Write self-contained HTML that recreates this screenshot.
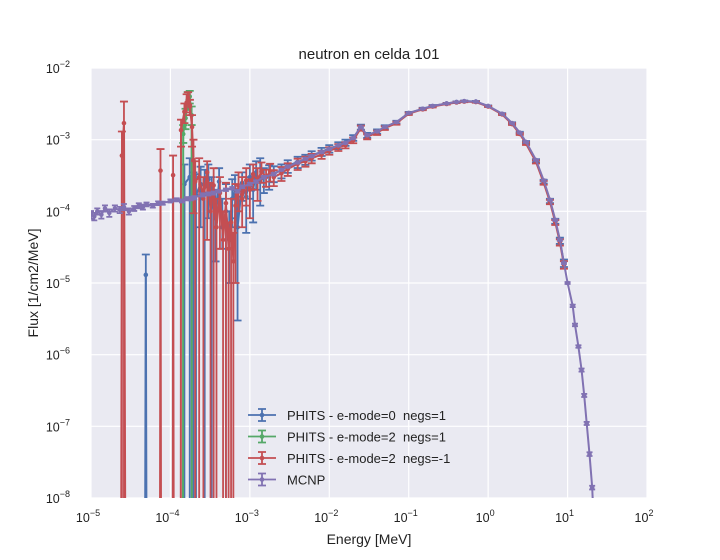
<!DOCTYPE html>
<html><head><meta charset="utf-8"><style>
body{margin:0;background:#fff;}
svg{display:block;font-family:"Liberation Sans","DejaVu Sans",sans-serif;}
</style></head><body>
<svg id="chart" width="720" height="560" xmlns="http://www.w3.org/2000/svg">
<rect x="0" y="0" width="720" height="560" fill="#fff"/>
<rect x="91" y="68" width="556" height="430" fill="#EAEAF2"/>
<g id="grid"></g>
<defs><clipPath id="clip"><rect x="91" y="68" width="556" height="430"/></clipPath></defs>
<g id="series" clip-path="url(#clip)"></g>
<g id="ticks"></g>
<text x="369" y="59" text-anchor="middle" font-size="15" fill="#222">neutron en celda 101</text>
<text x="369" y="544" text-anchor="middle" font-size="14" fill="#222">Energy [MeV]</text>
<text x="38" y="283" text-anchor="middle" font-size="14" fill="#222" transform="rotate(-90 38 283)">Flux [1/cm2/MeV]</text>
<g id="legend"></g>
</svg>
<script>
// ---- data ----
const xDecades = [-5,-4,-3,-2,-1,0,1,2];
const yDecades = [-8,-7,-6,-5,-4,-3,-2];

const mcnpE = [1e-5,1.1e-5,1.2e-5,1.35e-5,1.5e-5,1.7e-5,2e-5,2.3e-5,2.6e-5,3e-5,3.5e-5,4e-5,4.5e-5,5e-5,6e-5,7e-5,8e-5,1e-4,1.2e-4,1.4e-4,1.6e-4,1.8e-4,2e-4,2.5e-4,3e-4,3.5e-4,4e-4,5e-4,6e-4,7e-4,8e-4,1e-3,1.2e-3,1.5e-3,2e-3,2.5e-3,3e-3,4e-3,5e-3,6e-3,8e-3,1e-2,1.3e-2,1.6e-2,2e-2,2.5e-2,3e-2,4e-2,5e-2,7e-2,0.1,0.15,0.2,0.3,0.4,0.5,0.7,1,1.5,2,2.5,3,4,5,6,7,8,9,10,11.6,12.4,13.7,15,16.2,17.4,18.9,20.4,22];
const mcnpV = [9e-5,8.5e-5,1e-4,9e-5,1.1e-4,9.5e-5,1.1e-4,1.05e-4,1.15e-4,1e-4,1.1e-4,1.2e-4,1.15e-4,1.25e-4,1.2e-4,1.3e-4,1.3e-4,1.4e-4,1.45e-4,1.4e-4,1.5e-4,1.5e-4,1.55e-4,1.7e-4,1.75e-4,1.8e-4,1.9e-4,2.0e-4,2.1e-4,1.9e-4,2.2e-4,2.4e-4,2.6e-4,3e-4,3.3e-4,3.8e-4,4.2e-4,4.8e-4,5.4e-4,5.9e-4,6.7e-4,7.4e-4,8.3e-4,9.0e-4,1.05e-3,1.5e-3,1.15e-3,1.3e-3,1.5e-3,1.75e-3,2.35e-3,2.7e-3,2.95e-3,3.2e-3,3.35e-3,3.45e-3,3.4e-3,2.95e-3,2.3e-3,1.7e-3,1.25e-3,9.3e-4,5.2e-4,2.7e-4,1.45e-4,7.6e-5,4e-5,1.9e-5,1e-5,4.8e-6,2.6e-6,1.3e-6,6.1e-7,2.7e-7,1.1e-7,4.1e-8,1.4e-8,2e-9];
const mcnpRel = [0.12,0.12,0.1,0.12,0.1,0.12,0.1,0.1,0.1,0.1,0.08,0.08,0.08,0.06,0.06,0.06,0.05,0.05,0.05,0.05,0.05,0.05,0.05,0.05,0.05,0.05,0.04,0.04,0.04,0.04,0.04,0.04,0.04,0.04,0.04,0.03,0.03,0.03,0.03,0.03,0.03,0.03,0.02,0.02,0.02,0.02,0.02,0.02,0.02,0.02,0.02,0.02,0.02,0.02,0.02,0.02,0.02,0.02,0.02,0.02,0.02,0.02,0.02,0.03,0.03,0.03,0.03,0.03,0.03,0.04,0.04,0.04,0.05,0.05,0.05,0.06,0.06,0.06];

// shared high-energy PHITS grid
const hiE = [2e-3,2.5e-3,3e-3,4e-3,5e-3,6e-3,8e-3,1e-2,1.3e-2,1.6e-2,2e-2,2.5e-2,3e-2,4e-2,5e-2,7e-2,0.1,0.15,0.2,0.3,0.4,0.5,0.7,1,1.5,2,2.5,3,4,5,6,7,8,9];
const hiRel = [0.25,0.22,0.2,0.18,0.16,0.15,0.13,0.12,0.11,0.1,0.09,0.08,0.08,0.07,0.06,0.05,0.04,0.03,0.03,0.02,0.02,0.02,0.02,0.02,0.02,0.03,0.03,0.04,0.05,0.06,0.07,0.08,0.1,0.12];
const redHiV = [3.0e-4,3.4e-4,3.9e-4,4.6e-4,5.0e-4,5.5e-4,6.2e-4,7.0e-4,7.8e-4,8.4e-4,9.8e-4,1.45e-3,1.1e-3,1.25e-3,1.45e-3,1.7e-3,2.3e-3,2.65e-3,2.9e-3,3.15e-3,3.3e-3,3.4e-3,3.35e-3,2.9e-3,2.25e-3,1.65e-3,1.2e-3,8.8e-4,4.9e-4,2.5e-4,1.35e-4,7e-5,3.7e-5,1.8e-5];
const blueHiV = [3.4e-4,3.7e-4,4.3e-4,4.9e-4,5.3e-4,6.0e-4,6.8e-4,7.5e-4,8.3e-4,9.1e-4,1.06e-3,1.5e-3,1.15e-3,1.3e-3,1.5e-3,1.75e-3,2.35e-3,2.7e-3,2.95e-3,3.2e-3,3.35e-3,3.45e-3,3.4e-3,2.95e-3,2.3e-3,1.7e-3,1.25e-3,9.2e-4,5.1e-4,2.6e-4,1.4e-4,7.3e-5,3.9e-5,1.9e-5];

// low-energy PHITS points (value, upper bound, lower bound; 0 = zero flux / off-axis)
const blueLoE = [4.8e-5,4.9e-5,5e-5,1.45e-4,1.5e-4,1.75e-4,1.95e-4,2.1e-4,2.4e-4,2.7e-4,3e-4,3.3e-4,3.7e-4,4.1e-4,4.5e-4,5e-4,5.5e-4,6e-4,6.5e-4,7e-4,8e-4,9e-4,1e-3,1.1e-3,1.2e-3,1.35e-3,1.5e-3,1.75e-3];
const blueLoV = [0,1.3e-5,0,0,2.4e-4,3e-4,1e-4,1.7e-4,2.4e-4,2.2e-4,2.8e-4,1.5e-4,8e-5,2.6e-4,6e-5,1e-4,4e-5,1.5e-4,2e-4,6e-5,2.5e-4,1.6e-4,3e-4,2e-4,3.5e-4,2.6e-4,3e-4,3.2e-4];
const blueLoHi = [0,2.5e-5,0,0,4.5e-4,5.5e-4,3.5e-4,3.3e-4,4.2e-4,3.8e-4,4.5e-4,3e-4,2e-4,4e-4,1.5e-4,2.4e-4,1e-4,2.8e-4,3.2e-4,1.6e-4,3.5e-4,3e-4,4.5e-4,3e-4,5e-4,5.5e-4,4e-4,4.4e-4];
const blueLoLo = [0,0,0,0,0,0,0,0,6e-5,0,8e-5,0,2e-5,1e-4,3e-5,0,1e-5,6e-5,8e-5,3e-6,1.4e-4,5e-5,1.5e-4,7e-5,2e-4,1.2e-4,1.8e-4,2e-4];

const redLoE = [2.4e-5,2.45e-5,2.6e-5,2.7e-5,7.4e-5,7.5e-5,7.6e-5,1.07e-4,1.08e-4,1.1e-4,1.35e-4,1.36e-4,1.5e-4,1.6e-4,1.67e-4,1.76e-4,1.87e-4,1.95e-4,2.05e-4,2.3e-4,2.6e-4,2.9e-4,3.2e-4,3.5e-4,3.8e-4,4.2e-4,4.6e-4,5e-4,5.4e-4,5.8e-4,6.2e-4,6.6e-4,7.2e-4,8e-4,9e-4,1e-3,1.1e-3,1.25e-3,1.4e-3,1.6e-3,1.8e-3];
const redLoV = [0,6e-4,1.7e-3,0,0,3.7e-4,0,0,3.2e-4,0,0,1.36e-3,2.45e-3,3.3e-3,3.9e-3,2.9e-3,1.5e-3,5.2e-4,2.6e-4,3e-4,1.5e-4,3.5e-4,1e-4,2.3e-4,6e-5,1.8e-4,4e-5,1.3e-4,3e-5,7e-5,2e-5,1.2e-4,2.3e-4,1.5e-4,2.7e-4,2e-4,3.3e-4,2.7e-4,3.6e-4,3e-4,3.6e-4];
const redLoHi = [0,1.3e-3,3.4e-3,0,0,7.4e-4,0,0,6e-4,0,0,1.9e-3,3.2e-3,4.3e-3,4.6e-3,3.6e-3,2.2e-3,1e-3,5e-4,5.5e-4,3e-4,5e-4,2.5e-4,4e-4,1.5e-4,3e-4,1e-4,2.5e-4,7e-5,1.5e-4,5e-5,2.4e-4,3.5e-4,3e-4,4e-4,2.8e-4,4.5e-4,4e-4,4.8e-4,3.8e-4,4.6e-4];
const redLoLo = [0,0,0,0,0,0,0,0,0,0,0,8e-4,1.7e-3,2.4e-3,3.1e-3,2.2e-3,8e-4,9.4e-5,0,0,0,4e-5,0,0,0,3e-5,0,0,0,0,0,1e-5,1e-4,6e-5,1.2e-4,8e-5,2e-4,1.4e-4,2.5e-4,2.2e-4,2.6e-4];

const greenLoE = [1.44e-4,1.45e-4,1.55e-4,1.65e-4,1.75e-4,1.85e-4,1.86e-4];
const greenLoV = [0,1.2e-3,2e-3,3.6e-3,4e-3,2.2e-3,0];
const greenLoHi = [0,1.6e-3,2.7e-3,4.6e-3,4.8e-3,2.9e-3,0];
const greenLoLo = [0,9e-4,1.4e-3,2.6e-3,3.2e-3,1.6e-3,0];

// ---- axes ----
const X0=91,X1=647,Y0=68,Y1=498;
function xs(e){return X0+(Math.log10(e)+5)/7*(X1-X0);}
function ys(v){if(v<=0)return Y1+50;return Y0+(-2-Math.log10(v))/6*(Y1-Y0);}
const NS="http://www.w3.org/2000/svg";
function mk(tag,attrs,parent){const el=document.createElementNS(NS,tag);for(const k in attrs)el.setAttribute(k,attrs[k]);parent.appendChild(el);return el;}

const grid=document.getElementById('grid'), ticks=document.getElementById('ticks');
xDecades.forEach(d=>{
  const x=xs(Math.pow(10,d));
  const ln=mk('line',{x1:x,x2:x,y1:Y0,y2:Y1,stroke:'#fff','stroke-width':1.2},grid);
  
  
  const t=mk('text',{x:x-3,y:522,'text-anchor':'middle','font-size':12.5,fill:'#222'},ticks);
  
  
  t.textContent='10';
  const s=mk('tspan',{dy:-6,'font-size':9},t); s.textContent=(d<0?'\u2212':'')+Math.abs(d);
});
yDecades.forEach(d=>{
  const y=ys(Math.pow(10,d));
  const ln=mk('line',{x1:X0,x2:X1,y1:y,y2:y,stroke:'#fff','stroke-width':1.2},grid);
  
  
  const t=mk('text',{x:70,y:y+5,'text-anchor':'end','font-size':12.5,fill:'#222'},ticks);
  
  
  t.textContent='10';
  const s=mk('tspan',{dy:-6,'font-size':9},t); s.textContent='\u2212'+Math.abs(d);
});

const layer=document.getElementById('series');
function drawSeries(name,color,E,V,HI,LO,cap){
  const g=mk('g',{},layer);
  
  
  const pts=E.map((e,i)=>xs(e).toFixed(1)+','+ys(V[i]).toFixed(1)).join(' ');
  const pl=mk('polyline',{points:pts,fill:'none',stroke:color,'stroke-width':2,'stroke-linejoin':'round'},g);
  
  
  E.forEach((e,i)=>{
    if(V[i]<=0) return;
    const x=xs(e), yh=ys(HI[i]), yl=ys(LO[i]);
    const eb=mk('path',{d:`M${x},${yh}L${x},${yl}M${x-cap},${yh}L${x+cap},${yh}M${x-cap},${yl}L${x+cap},${yl}`,stroke:color,'stroke-width':1.8,fill:'none'},g);
    
    
    const c=mk('circle',{cx:x,cy:ys(V[i]),r:2.3,fill:color},g);
    
    
  });
}
function combine(loE,loV,loHi,loLo,hiV){
  const E=loE.concat(hiE), V=loV.concat(hiV);
  const H=loHi.concat(hiV.map((v,i)=>v*(1+hiRel[i])));
  const L=loLo.concat(hiV.map((v,i)=>v*(1-hiRel[i])));
  return [E,V,H,L];
}
const B=combine(blueLoE,blueLoV,blueLoHi,blueLoLo,blueHiV);
drawSeries('phits-emode0-negs1','#4C72B0',...B,4);
drawSeries('phits-emode2-negs1','#55A868',greenLoE,greenLoV,greenLoHi,greenLoLo,4);
const R=combine(redLoE,redLoV,redLoHi,redLoLo,redHiV);
drawSeries('phits-emode2-negsm1','#C44E52',...R,4);
drawSeries('mcnp','#8172B2',mcnpE,mcnpV,mcnpV.map((v,i)=>v*(1+mcnpRel[i])),mcnpV.map((v,i)=>v*(1-mcnpRel[i])),3);

// legend
const leg=document.getElementById('legend');
const labels=['PHITS - e-mode=0  negs=1','PHITS - e-mode=2  negs=1','PHITS - e-mode=2  negs=-1','MCNP'];
const colors=['#4C72B0','#55A868','#C44E52','#8172B2'];
labels.forEach((l,i)=>{
  const y=415+i*21.5;
  const g=mk('g',{},leg);
  
  
  mk('path',{d:`M248,${y}L276,${y}M262,${y-6}L262,${y+6}M258,${y-6}L266,${y-6}M258,${y+6}L266,${y+6}`,stroke:colors[i],'stroke-width':1.8,fill:'none'},g);
  mk('circle',{cx:262,cy:y,r:2.3,fill:colors[i]},g);
  const t=mk('text',{x:287,y:y+5,'font-size':13,fill:'#222','xml:space':'preserve'},g);
  t.style.whiteSpace='pre';
  t.textContent=l;
});
</script>
</body></html>
